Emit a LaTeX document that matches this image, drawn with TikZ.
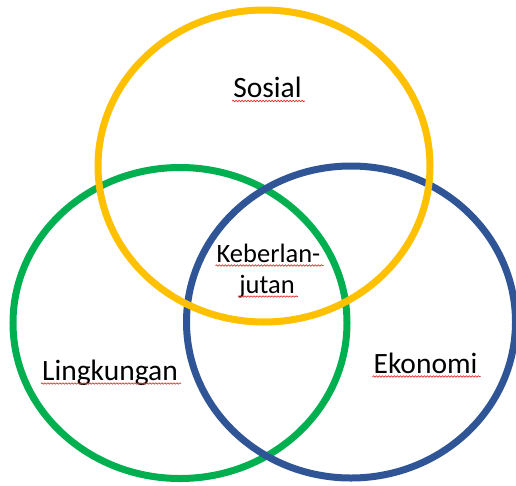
\documentclass[tikz,border=0pt]{standalone}
\usepackage{fontspec}
\setmainfont{Carlito}
\usetikzlibrary{decorations.pathmorphing}
\definecolor{ringyellow}{HTML}{FFC000}
\definecolor{ringgreen}{HTML}{00B050}
\definecolor{ringblue}{HTML}{2F5597}
\definecolor{squigred}{HTML}{E03030}
\begin{document}
\begin{tikzpicture}[x=1pt,y=-1pt,
  ring/.style={line width=7pt},
  lbl/.style={font=\fontsize{29.5}{31}\selectfont, inner sep=0pt, anchor=base},
  midlbl/.style={lbl, font=\fontsize{26.5}{31}\selectfont},
  squig/.style={draw=squigred, line width=0.7pt, decorate,
     decoration={snake, amplitude=0.7pt, segment length=3pt}}]
\useasboundingbox (0,0) rectangle (516,485);
\fill[white] (0,0) rectangle (516,485);
\begin{scope}
\clip (0,0) rectangle (516,485);
\draw[ring, ringgreen] (180,323) ellipse [x radius=167, y radius=155.5];
\draw[ring, ringblue] (351,322) ellipse [x radius=164.5, y radius=156];
\draw[ring, ringyellow] (264,166) ellipse [x radius=166, y radius=156];
\end{scope}
\node[lbl] (sosial) at (267.5,97.5) {Sosial};
\node[midlbl] (keber) at (268.5,262) {Keberlan-};
\node[midlbl] (jutan) at (267,293) {jutan};
\node[lbl] (lingk) at (110,380) {Lingkungan};
\node[lbl] (ekon) at (425.5,373) {Ekonomi};
\foreach \n in {sosial,keber,jutan,lingk,ekon}{
  \draw[squig] ([yshift=-3.5pt,xshift=-1pt]\n.base west) -- ([yshift=-3.5pt,xshift=3pt]\n.base east);
}
\end{tikzpicture}
\end{document}
